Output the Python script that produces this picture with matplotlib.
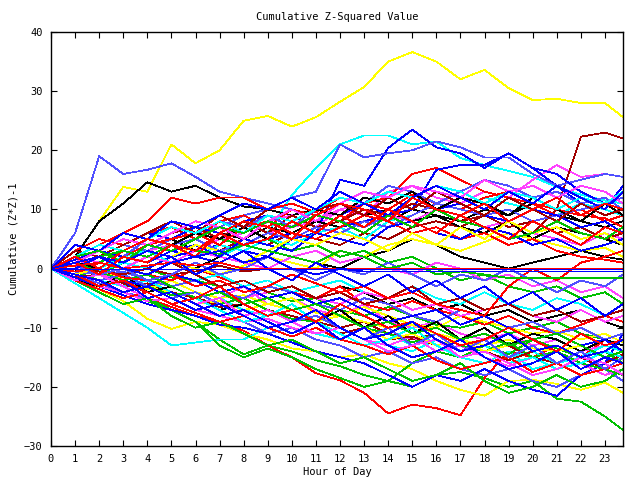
import matplotlib
matplotlib.use("Agg")
import matplotlib.pyplot as plt


# hour of day for each sample (last one is 23:45)
HOURS = list(range(24)) + [23.75]

RED_RUNS = [
    [0, -1.5, -3, -4, -5, -6.5, -8, -9, -10.5, -13, -15, -17.7, -18.9, -21, -24.5, -23, -23.6, -24.8, -18.5, -14, -15, -13, -15, -12, -13],
    [0, 3, 5, 4, 6, 7, 5, 8, 9, 7, 10, 9, 8, 11, 12, 16, 17, 15, 13, 12, 11, 9, 10, 8, 9],
    [0, 2, 4, 6, 8, 12, 11, 12, 12, 10, 11, 9.5, 12, 11, 10, 12.5, 11, 10, 12, 13, 11, 10, 9, 8.5, 7],
    [0, -1, 1, 0, -1, -2, 0, -1.5, -3, -2, -4, -5, -3, -6, -7, -5.5, -7, -8, -9.5, -8, -10, -11, -9.5, -8, -9],
    [0, 1, 3, 2, 4, 5, 6, 4, 7, 8, 6, 5, 7, 9, 8, 6, 7, 5, 6, 4, 5, 3, 2, 1.5, 1],
    [0, -2, -3.5, -5, -4, -6, -7.5, -9, -8, -10, -11.5, -10, -12, -13, -14.5, -13, -15.5, -17, -16, -15, -17.5, -16, -18, -17, -16],
    [0, -0.5, 0, -1.5, -2, -1, -3, -2, -4, -3, -1, -2.5, -4, -3, -5, -4, -6, -7, -8, -3, 0, -2, 1, 2, 3],
    [0, 2, 0, 3, 5, 4, 2, 6, 8, 7, 5, 9, 11, 10, 8, 12, 10, 9, 11, 8, 10, 12, 9, 11, 10],
    [0, -1, -3, -2, -4, -6, -5, -3, -6, -8, -7, -9, -6, -8, -10, -9, -11, -13, -12, -10, -12, -14, -11, -13, -12],
    [0, 1, -1, 2, 1, 4, 3, 6, 4, 5, 8, 6, 9, 7, 10, 8, 6, 9, 7, 5, 8, 6, 4, 7, 6],
    [0, 0.5, 1, 0, 0.5, 1, 0.5, 1, 0, 0, 0, 0, 0, 0, 0, 0, 0, 0, 0, 0, 0, 0, 0, 0, 0],
]
DARKRED_RUNS = [
    [0, 1, 2, 1, 3, 2, 4, 3, 5, 4, 6, 5, 4, 6, 5, 7, 8, 7, 9, 8, 6, 10, 22.3, 23, 22],
    [0, -1, -2, -3, -2.5, -4, -5, -6, -5, -7, -8, -9, -10, -9, -11, -12, -11, -13, -14, -13, -15, -16, -15, -17, -18],
    [0, 2, 3, 5, 4, 6, 7, 5, 8, 6, 9, 7, 8, 10, 9, 11, 10, 8, 9, 7, 8, 6, 7, 5, 6],
    [0, -1.5, -1, -2.5, -4, -3, -5, -6.5, -6, -8, -7, -9, -11, -10, -12, -11.5, -13, -12, -14, -15.5, -14, -13, -15, -16, -14.5],
    [0, 1, 2, 0, -1, 1, -1, -3, -2, -4, -3, -5, -4, -6, -5, -3, -6, -5, -7, -6, -8, -7, -9, -8, -7],
    [0, 3, 2, 4, 6, 8, 6, 9, 7, 10, 12, 10, 11, 9, 12, 10, 13, 11, 9, 12, 10, 8, 11, 9, 10],
    [0, 0.5, -0.5, -1, 0, -1, -0.5, 0.5, -0.5, 0, 0, 0, 0, 0, 0, 0, 0, 0, 0, 0, 0, 0, 0, 0, 0],
]
GREEN_RUNS = [
    [0, -1.5, -3, -4, -5.5, -7, -9, -12, -14.5, -13, -14, -15.5, -16.5, -18, -19, -20, -18, -17.5, -18.5, -20, -19, -22, -22.5, -25, -27.3],
    [0, -1, -2.5, -4, -5, -7, -9, -13, -15, -13.5, -15, -17, -18.5, -20, -19, -16, -14, -15, -13, -14.5, -12, -13.5, -15, -14, -16],
    [0, 0.5, -1, 1, 0, -1.5, -2, -3, -2, -4, -5.5, -5, -7, -8, -6.5, -8, -9.5, -10, -9, -11, -10, -9, -11, -12, -11],
    [0, -0.5, -2, -1, -3, -4.5, -4, -6, -5, -7, -8.5, -9, -8, -10, -11, -12.5, -11, -13, -14, -12.5, -15, -14, -16, -17, -18],
    [0, 2, 1, 3, 5, 4, 6, 5, 4, 5, 3, 4, 2, 3, 1, 2, 0, -2, -1, -3, -4, -3, -5, -4, -6],
    [0, -2, -4, -6, -5, -8, -10, -9, -11, -13, -12, -14, -16, -15, -17, -19, -18, -16, -19, -21, -20, -18, -20, -19, -17],
    [0, 1, -0.5, -2, -1, -3, -5, -4, -6, -5, -7, -6, -8, -10, -9, -11, -10, -12, -11, -13, -12, -11, -13, -15, -14],
    [0, 2, 3, 1, 4, 3, 5, 7, 6, 8, 7, 9, 8, 6, 9, 7, 10, 8, 7, 5, 6, 8, 6, 5, 7],
    [0, 1, 2, 3, 2, 4, 3, 2.5, 4, 3, 2, 1, 3, 2, 0, 1, -1, -0.5, -1, -1.6, -1.6, -1.6, -1.6, -1.6, -1.6],
]
BLUE_RUNS = [
    [0, 1, 0, 2, 1, 3, 2, 1, 3, 2, 5, 6, 15, 14, 20.4, 23.5, 20.5, 19.5, 17, 19.5, 17, 14, 11, 10, 14],
    [0, 1, 2, 1, 0, 2, 3, 4, 3, 5, 6, 5, 7, 8, 9, 10, 16.7, 17.5, 17.5, 19.5, 17, 16, 13, 11, 10],
    [0, -2, -3, -4.5, -6, -7, -8, -9.5, -10, -11, -12.5, -14, -15, -16, -18, -20, -18, -19, -17, -19, -20.5, -21.5, -18, -16, -11],
    [0, 3, 2, 4, 6, 5, 7, 6, 8, 9, 8, 10, 9, 11, 13, 12, 10, 11, 9, 8, 10, 9, 7, 8, 6],
    [0, -1, 0, -2, -3, -1, -2, -4, -3, -5, -4, -6, -5, -7, -9, -8, -7, -9.5, -8, -10, -12, -11, -13, -12, -14],
    [0, 1.5, 3, 2, 1, 3, 4, 2, 5, 4, 3, 6, 5, 4, 7, 8, 6, 5, 7, 6, 4, 5, 3, 4, 5],
    [0, 4, 3, 6, 5, 8, 7, 9, 11, 10, 12, 10, 13, 11, 9, 12, 14, 12, 10, 13, 11, 14, 12, 10, 13],
    [0, -1.5, -3, -2, -5, -4, -6, -8, -7, -9, -11, -9, -12, -10, -13, -15, -14, -12, -15, -17, -16, -14, -17, -15, -16],
    [0, 0, 2, 1, 3, 2, -1, 1, 3, 0, -2, 1, -1, -3, -1, -4, -2, -5, -3, -6, -4, -7, -5, -8, -6],
    [0, -1, -2, -4, -3, -5, -7, -6, -8, -10, -9, -7, -10, -12, -11, -9, -12, -14, -13, -11, -14, -13, -15, -14, -12],
    [0, 1, 2, 0, -1, 1, 2, 3, 1, 2, 0, -1, 0, -0.5, -0.5, -0.5, -0.5, -0.5, -0.5, -0.5, -0.5, -0.5, -0.5, -0.5, -0.5],
    [0, 0, 0, 0, 0, 0, 0, 0, 0, 0, 0, 0, 0, 0, 0, 0, 0, 0, 0, 0, 0, 0, 0, 0, 0],
]
MAGENTA_RUNS = [
    [0, 1, 2, 3, 2, 4, 5, 3, 4, 6, 7, 8, 10, 9, 13, 14, 12, 11, 13, 12, 15, 17.5, 15.5, 16, 15.5],
    [0, -1, -2, -1, -3, -2, -4, -5, -3, -6, -5, -7, -8, -6, -9, -10, -9, -11, -12, -11, -13, -12, -14, -13, -12],
    [0, 0.5, 2, 1, 3, 4, 3, 5, 6, 8, 9, 7, 10, 11, 9, 8, 10, 9, 7, 8, 6, 5, 4, 6, 5],
    [0, -1.5, -3, -4, -5.5, -5, -7, -8, -9, -8.5, -10, -11, -10, -12, -13, -11.5, -14, -13, -15, -16.5, -15, -17, -16, -18, -17],
    [0, 0, -1, -2, -1, -3, -2, -4, -5, -4, -3, -5, -6, -4, -5, -7, -6, -8, -7, -6, -8, -9, -7, -9, -8],
    [0, 2, 1, 0, 2, 1, 3, 2, 1, 0, 2, 3, 1, 2, 0, -1, 1, 0, -2, -1, -3, -2, -4, -3, -5],
    [0, 1, 3, 5, 4, 6, 8, 7, 5, 8, 10, 8, 11, 13, 12, 14, 13, 12, 15, 13, 14, 12, 14, 13, 11],
    [0, -2, -1, -3, -5, -4, -6, -5, -8, -7, -9, -11, -10, -12, -14, -13, -12, -15, -14, -16, -18, -17, -15, -16, -18],
]
CYAN_RUNS = [
    [0, 1, -1, 0, 2, 1, 3, 2, 4, 6, 12.4, 17, 21, 22.5, 22.5, 21, 21.5, 18.7, 17.5, 16.5, 15.5, 13.8, 12.5, 11.5, 11],
    [0, -2.5, -5, -7.5, -10, -13, -12.5, -12, -12, -10, -9, -11, -12, -10, -13, -14, -12, -15, -16, -14, -17, -16, -18, -17, -19],
    [0, 1, 0, 2, 3, 1, 2, 4, 3, 5, 4, 6, 7, 5, 8, 9, 11, 10, 12, 11, 10, 9, 11, 10, 9],
    [0, -1, -2, -3, -2, -4, -6, -5, -7, -8, -7, -9, -8, -10, -11, -13, -12, -14, -13, -15, -14, -16, -15, -13, -14],
    [0, 0.5, -0.5, 1, 0, -1, -2, -1, -3, -2, -4, -3, -2, -4, -5, -3, -5, -6, -4, -6, -7, -5, -6, -8, -7],
    [0, -1, -3, -2, -4, -6, -5, -7, -9, -8, -6, -9, -11, -13, -12, -10, -13, -15, -14, -16, -15, -17, -16, -14, -15],
    [0, 2, 4, 3, 5, 7, 6, 8, 6, 9, 8, 10, 12, 11, 13, 12, 14, 13, 11, 13, 12, 10, 12, 11, 13],
]
YELLOW_RUNS = [
    [0, 2, 8, 13.8, 13, 21, 17.8, 20, 25, 25.8, 24, 25.6, 28.2, 30.7, 35, 36.6, 35, 32, 33.6, 30.5, 28.5, 28.7, 28, 28, 25.6],
    [0, -1.5, -3.5, -5.5, -8.5, -10.2, -9, -9.5, -11, -12, -13.5, -14, -15, -14.5, -16, -17, -19, -20.5, -21.5, -19, -18.8, -19.5, -20.5, -19.3, -21],
    [0, 1, -1, -2, -3.5, -2, -4, -5, -4.5, -6, -7, -6, -8, -9, -10, -9.5, -11, -12, -13, -12, -13.5, -14, -13, -15, -16],
    [0, -0.5, -2, -1, -3, -4, -6, -5.5, -7, -6, -5, -7.5, -8, -6.5, -8, -9.5, -10, -8, -9, -10, -11, -10.5, -12, -11, -12.5],
    [0, 0.5, 1, 0, 2, 1, 0, -1, 0.5, 2, 1, 0, 3, 2, 4, 5, 4, 3, 4.5, 6, 5, 4, 3, 3.5, 2],
    [0, -1, 0, -2, -1, -3, -5, -4, -6, -8, -7, -9, -8, -10, -12, -11, -13, -12, -14, -13, -12, -14, -13, -15, -14],
    [0, 1, 2, 1, 3, 2, 4, 3, 1, 3, 5, 4, 6, 5, 3, 6, 4, 7, 5, 8, 6, 7, 5, 6, 4],
]
BLACK_RUNS = [
    [0, 2, 8, 11, 14.6, 13, 14, 12, 10.5, 10, 9, 10, 11, 9, 8, 10, 9, 8, 10, 9, 11, 9, 8, 7, 8],
    [0, -1, 0, -2, -1, -3, -2, -4, -3, -2, -4, -5, -3, -4, -6, -5, -7, -6, -8, -7, -9, -8, -7, -9, -10],
    [0, 1, 3, 2, 4, 5, 3, 6, 5, 7, 6, 8, 7, 9, 10, 8, 9, 7, 6, 8, 5, 7, 6, 5, 4],
    [0, -0.5, 1, 0, 2, 1, 0, 2, 1, 3, 2, 1, 0, 2, 3, 5, 4, 2, 1, 0, 1, 2, 3, 2, 1.5],
    [0, -2, -3, -1, -4, -3, -5, -7, -6, -8, -6, -9, -7, -10, -8, -11, -9, -12, -10, -13, -11, -12, -14, -12, -13],
    [0, 1, 0, 3, 2, 4, 6, 5, 7, 5, 8, 10, 9, 12, 11, 13, 10, 12, 11, 9, 12, 10, 8, 11, 9],
]
SLATE_RUNS = [
    [0, 6, 19, 16, 16.7, 17.8, 15.5, 13, 12, 11, 10, 9, 8, 7, 9, 8, 6, 5, 7, 6, 4, 5, 3, 2, 3],
    [0, 1, 2, 4, 3, 5, 6, 7, 9, 10, 12, 13, 21, 18.8, 19.5, 20, 21.5, 20.5, 18.8, 18.8, 16, 14, 15, 16, 15.5],
    [0, -1, -2.5, -4, -5, -4, -6, -8, -9, -11, -10, -12, -13, -15, -14, -16, -15, -17, -18, -17, -19, -20, -18, -17, -19],
    [0, 0.5, 1, 3, 2, 4, 5, 3, 4, 6, 5, 7, 6, 8, 7, 9, 11, 10, 9, 10, 8, 9, 10, 11, 12],
    [0, -0.5, -1, -0.5, -2, -3, -2, -4, -5, -3, -4, -6, -7, -5, -6, -8, -9, -7, -8, -10, -9, -11, -10, -12, -11],
    [0, 1, 3, 2, 5, 4, 6, 8, 7, 9, 7, 10, 12, 11, 14, 13, 11, 13, 15, 14, 12, 13, 11, 12, 10],
    [0, -1, -2, -1, -3, -5, -4, -6, -8, -7, -9, -8, -10, -12, -10, -13, -11, -14, -12, -15, -13, -16, -14, -17, -15],
    [0, 0.5, -1, 0, -2, -1, 1, -1, 0, 2, 0, -2, 0, -1, 1, -1, -3, -1, -2, 0, -2, -4, -2, -3, -1],
]

GROUPS = [
    (YELLOW_RUNS, "#ffff00"),
    (CYAN_RUNS, "#00ffff"),
    (MAGENTA_RUNS, "#ff40ff"),
    (GREEN_RUNS, "#00c000"),
    (SLATE_RUNS, "#5050ff"),
    (BLACK_RUNS, "#000000"),
    (DARKRED_RUNS, "#a00000"),
    (RED_RUNS, "#ff0000"),
    (BLUE_RUNS, "#0000ff"),
]

plt.rcParams["font.family"] = "DejaVu Sans Mono"
plt.rcParams["font.size"] = 7.5

fig = plt.figure(figsize=(6.4, 4.8), dpi=100)
ax = fig.add_axes([51 / 640, 34 / 480, 572 / 640, 414 / 480])

# interleave the groups so no colour ends up fully on top
longest = max(len(runs) for runs, _ in GROUPS)
for i in range(longest):
    for runs, color in GROUPS:
        if i < len(runs):
            ax.plot(HOURS, runs[i], color=color, lw=0.55, antialiased=False)

ax.set_xlim(0, 23.75)
ax.set_ylim(-30, 40)
ax.set_xticks(range(24))
ax.set_yticks(range(-30, 41, 10))
ax.tick_params(direction="in", length=4.5, width=0.8, top=True, right=True,
               pad=6, colors="black")
for side in ax.spines.values():
    side.set_linewidth(1.0)

ax.set_title("Cumulative Z-Squared Value", fontsize=7.5, pad=9)
ax.set_xlabel("Hour of Day", labelpad=2)
ax.set_ylabel("Cumulative (Z*Z)-1", labelpad=4)

fig.savefig("out.png", dpi=100)
